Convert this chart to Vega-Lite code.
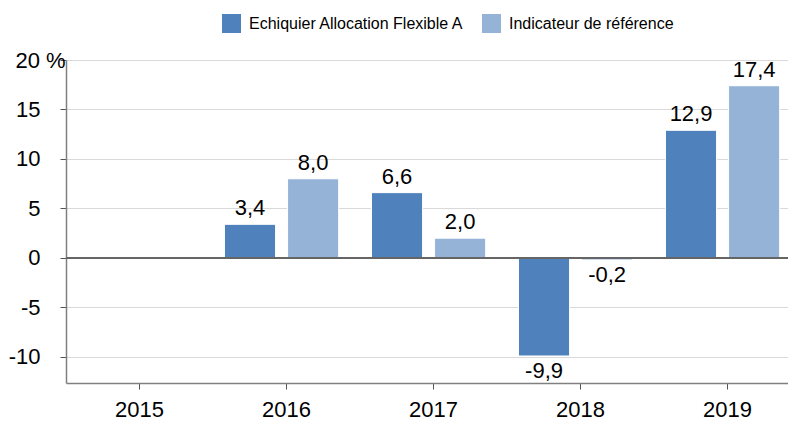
{
  "$schema": "https://vega.github.io/schema/vega-lite/v6.json",
  "width": 722,
  "height": 323,
  "autosize": {"type": "none"},
  "padding": {"left": 66, "top": 60, "right": 0, "bottom": 38},
  "background": "white",
  "config": {
    "font": "Liberation Sans",
    "view": {"stroke": null},
    "locale": {"number": {"decimal": ",", "thousands": " ", "grouping": [3], "currency": ["", " €"], "minus": "-"}}
  },
  "data": {
    "values": [
      {"year": "2016", "series": "Echiquier Allocation Flexible A", "value": 3.4},
      {"year": "2016", "series": "Indicateur de référence", "value": 8.0},
      {"year": "2017", "series": "Echiquier Allocation Flexible A", "value": 6.6},
      {"year": "2017", "series": "Indicateur de référence", "value": 2.0},
      {"year": "2018", "series": "Echiquier Allocation Flexible A", "value": -9.9},
      {"year": "2018", "series": "Indicateur de référence", "value": -0.2},
      {"year": "2019", "series": "Echiquier Allocation Flexible A", "value": 12.9},
      {"year": "2019", "series": "Indicateur de référence", "value": 17.4}
    ]
  },
  "encoding": {
    "x": {
      "field": "year", "type": "nominal",
      "scale": {"domain": ["2015", "2016", "2017", "2018", "2019"], "range": [0, 735], "paddingInner": 0, "paddingOuter": 0},
      "axis": {"title": null, "labelAngle": 0, "labelFontSize": 22, "labelColor": "#000", "labelPadding": 10, "tickSize": 6, "tickColor": "#555", "domainColor": "#808080", "domainWidth": 1.5, "grid": false}
    },
    "xOffset": {
      "field": "series", "type": "nominal",
      "scale": {"domain": ["Echiquier Allocation Flexible A", "Indicateur de référence"], "paddingInner": 0.19, "paddingOuter": 0.26, "align": 0.35}
    },
    "y": {
      "field": "value", "type": "quantitative",
      "scale": {"domain": [-12.63, 20], "nice": false, "zero": false},
      "axis": {"title": null, "values": [-10, -5, 0, 5, 10, 15, 20], "labelExpr": "datum.value == 20 ? '20 %' : toString(datum.value)", "labelAlign": {"condition": {"test": "datum.value == 20", "value": "center"}, "value": "right"}, "labelFontSize": 22, "labelColor": "#000", "labelPadding": 20, "tickSize": 6, "tickColor": "#555", "domainColor": "#808080", "domainWidth": 1.5, "gridColor": "#d9d9d9", "gridWidth": 1}
    }
  },
  "layer": [
    {
      "mark": {"type": "bar", "stroke": "white", "strokeWidth": 1},
      "encoding": {
        "color": {
          "field": "series", "type": "nominal",
          "scale": {"domain": ["Echiquier Allocation Flexible A", "Indicateur de référence"], "range": ["#4f81bd", "#95b3d7"]},
          "legend": {"title": null, "orient": "none", "legendX": 156, "legendY": -46, "direction": "horizontal", "symbolType": "square", "symbolSize": 361, "symbolStrokeWidth": 0, "labelFontSize": 16, "labelColor": "#000", "labelLimit": 0, "columnPadding": 17, "labelOffset": 8, "padding": 0}
        }
      }
    },
    {
      "transform": [{"filter": "datum.value >= 0"}],
      "mark": {"type": "text", "baseline": "bottom", "dy": -4, "fontSize": 22, "color": "#000"},
      "encoding": {"text": {"field": "value", "type": "quantitative", "format": ".1f"}}
    },
    {
      "transform": [{"filter": "datum.value < 0"}],
      "mark": {"type": "text", "baseline": "top", "dy": 5, "fontSize": 22, "color": "#000"},
      "encoding": {"text": {"field": "value", "type": "quantitative", "format": ".1f"}}
    },
    {
      "mark": {"type": "rule", "color": "#666", "strokeWidth": 1.5},
      "encoding": {"y": {"datum": 0}, "x": null, "xOffset": null}
    }
  ]
}
